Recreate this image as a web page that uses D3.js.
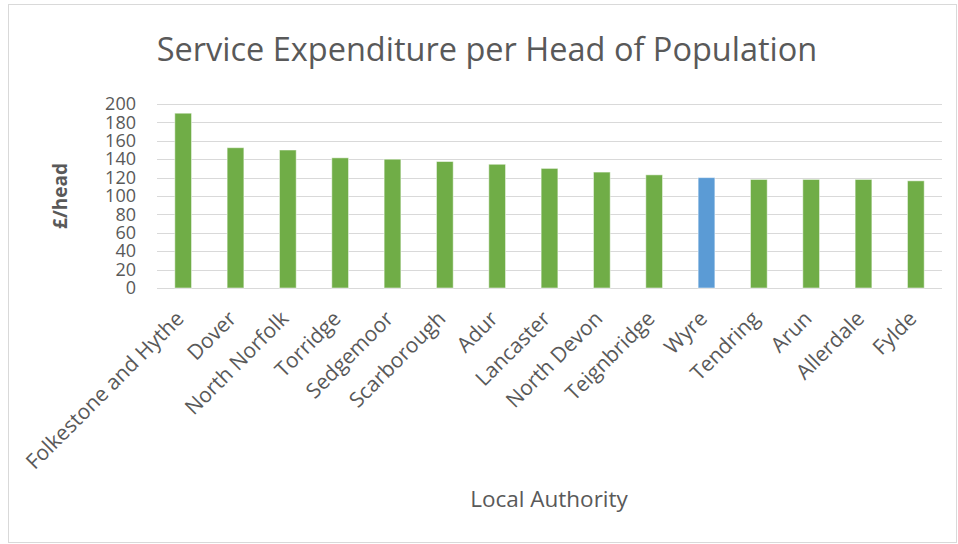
<!DOCTYPE html>
<html><head><meta charset="utf-8">
<script src="https://cdn.jsdelivr.net/npm/d3@7"></script>
<style>body{margin:0;background:#fff;}svg{display:block;font-family:"Open Sans",sans-serif;}</style>
</head><body><svg id="c" width="958" height="544"></svg>
<script>
const categories = ["Folkestone and Hythe","Dover","North Norfolk","Torridge","Sedgemoor","Scarborough","Adur","Lancaster","North Devon","Teignbridge","Wyre","Tendring","Arun","Allerdale","Fylde"];
const values = [190,152.5,150,141.5,140,137.5,134.5,130,126,123,120,118,118,118,116.5];
const highlight = ["Wyre"];
const yTicks = [0,20,40,60,80,100,120,140,160,180,200];

const svg = d3.select("#c");
const W=958,H=544;
const m={left:157,right:16,top:104,bottom:256};
const x=d3.scaleBand().domain(categories).range([m.left,W-m.right]).paddingInner(0.68).paddingOuter(0.34);
const y=d3.scaleLinear().domain([0,200]).range([H-m.bottom,m.top]);

svg.append("rect").attr("x",8.5).attr("y",4.5).attr("width",W-10).attr("height",H-6).attr("fill","#fff").attr("stroke","#d9d9d9");

svg.append("g").selectAll("line").data(yTicks).join("line")
  .attr("x1",m.left).attr("x2",W-m.right).attr("y1",d=>Math.round(y(d))+0.5).attr("y2",d=>Math.round(y(d))+0.5)
  .attr("stroke","#d9d9d9").attr("stroke-width",1.2);

const yAxis=svg.append("g").attr("transform",`translate(${m.left-21},0)`).call(d3.axisLeft(y).tickValues(yTicks).tickSize(0).tickPadding(0));
yAxis.select(".domain").remove();
yAxis.selectAll("text").attr("font-size",18).attr("fill","#595959").attr("font-family","Open Sans");

svg.append("g").selectAll("rect").data(categories).join("rect")
  .attr("x",d=>x(d)).attr("width",x.bandwidth())
  .attr("y",(d,i)=>y(values[i])).attr("height",(d,i)=>y(0)-y(values[i]))
  .attr("fill",d=>highlight.includes(d)?"#5b9bd5":"#70ad47")
  .attr("stroke","#fff").attr("stroke-opacity",0.5).attr("stroke-width",1);

const xAxis=svg.append("g").attr("transform",`translate(0,${y(0)})`).call(d3.axisBottom(x).tickSize(0).tickPadding(0));
xAxis.select(".domain").remove();
xAxis.selectAll("text").attr("font-size",21).attr("fill","#595959").attr("font-family","Open Sans")
  .attr("text-anchor","end").attr("dy",0)
  .attr("transform","translate(2,32) rotate(-45)");

svg.append("text").attr("x",487).attr("y",61).attr("text-anchor","middle").attr("font-size",32.5).attr("fill","#595959").text("Service Expenditure per Head of Population");
svg.append("text").attr("transform",`translate(67,196) rotate(-90)`).attr("text-anchor","middle").attr("font-size",19).attr("font-weight","bold").attr("fill","#595959").text("£/head");
svg.append("text").attr("x",549).attr("y",507).attr("text-anchor","middle").attr("font-size",22.5).attr("fill","#595959").text("Local Authority");
</script></body></html>
